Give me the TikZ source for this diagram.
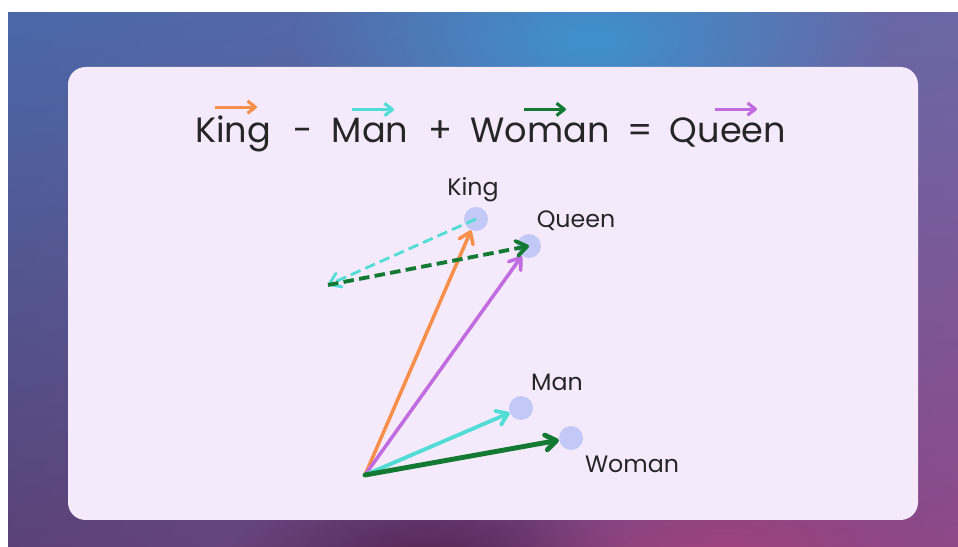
\documentclass[tikz,border=0pt]{standalone}
\usepackage{fontspec}
\setmainfont{Poppins}
\usetikzlibrary{positioning, arrows.meta, shadings, fadings}

\definecolor{cardbg}{HTML}{F5EAFB}
\definecolor{dotblue}{HTML}{C3C9F7}
\definecolor{vorange}{HTML}{F78F4B}
\definecolor{vcyan}{HTML}{52DCD6}
\definecolor{vgreen}{HTML}{137A33}
\definecolor{vpurple}{HTML}{C06CE0}
\definecolor{bgul}{HTML}{4A68A8}
\definecolor{bgur}{HTML}{6A68A6}
\definecolor{bgll}{HTML}{5A4277}
\definecolor{bglr}{HTML}{8E4888}
\definecolor{glowblue}{HTML}{3E92CE}
\definecolor{glowdark}{HTML}{4E1E4C}
\definecolor{glowpink}{HTML}{A8407C}

\tikzfading[name=softglow, inner color=transparent!0, outer color=transparent!100]

\begin{document}
\begin{tikzpicture}[
  x=0.02cm, y=-0.02cm,
  word/.style={anchor=base, inner sep=0pt, font=\fontsize{20}{24}\selectfont, text=black!85},
  lbl/.style={anchor=base, inner sep=0pt, font=\fontsize{13.5}{16}\selectfont, text=black!85},
  dot/.style={circle, fill=dotblue, minimum size=0.48cm, inner sep=0pt},
  vec/.style={-{Straight Barb[length=6pt, width=8.5pt, line join=round, line cap=round]}, line width=2pt, line cap=round},
  dvec/.style={vec, dash pattern=on 6pt off 3pt, line cap=butt},
  tarr/.style={-{Straight Barb[length=4.5pt, width=7pt, line join=round]}, line width=1.8pt},
]
\useasboundingbox (0,0) rectangle (958,547);

% Background
\begin{scope}
  \clip (8,13) rectangle (958,547);
  \shade[upper left=bgul, upper right=bgur, lower left=bgll, lower right=bglr]
    (8,13) rectangle (958,547);
  \fill[glowblue, path fading=softglow] (590,40) ellipse (300 and 150);
  \fill[glowdark, path fading=softglow, opacity=0.8] (430,560) ellipse (200 and 90);
  \fill[glowpink, path fading=softglow, opacity=0.8] (720,560) ellipse (220 and 100);
\end{scope}
\fill[cardbg, rounded corners=10pt] (68,67) rectangle (918,520);

% Title
\node[word] (tK) at (233,143) {King};
\node[word] (tminus) at (303,143) {-};
\node[word] (tM) at (370,143) {Man};
\node[word] (tplus) at (440,143) {+};
\node[word] (tW) at (540,143) {Woman};
\node[word] (teq) at (640,143) {=};
\node[word] (tQ) at (728,143) {Queen};

\draw[tarr, vorange] ([xshift=-0.36cm, yshift=5pt]tK.north) -- ++(42,0);
\draw[tarr, vcyan] ([xshift=-0.36cm, yshift=5pt]tM.north) -- ++(42,0);
\draw[tarr, vgreen] ([xshift=-0.32cm, yshift=5pt]tW.north) -- ++(42,0);
\draw[tarr, vpurple] ([xshift=-0.26cm, yshift=5pt]tQ.north) -- ++(42,0);

% Nodes
\coordinate (O) at (365,475);
\coordinate (P) at (328,285);
\node[dot] (king) at (476,219) {};
\node[dot] (queen) at (529,246) {};
\node[dot] (man) at (521,408) {};
\node[dot] (woman) at (571,438) {};

\node[lbl] (lking) at (473,196) {King};
\node[lbl] (lqueen) at (576,228) {Queen};
\node[lbl] (lman) at (557,391) {Man};
\node[lbl] (lwoman) at (632,473) {Woman};

% Arrows
\draw[vec, vorange] (O) -- (king);
\draw[vec, vpurple] (O) -- (queen);
\draw[vec, vcyan, line width=2.2pt] (O) -- (man);
\draw[vec, vgreen, line width=2.8pt] (O) -- (woman);
\draw[dvec, vcyan, line width=1.6pt] (king.center) -- (P);
\draw[dvec, vgreen, line width=2.2pt] (P) -- (queen.center);

\end{tikzpicture}
\end{document}
